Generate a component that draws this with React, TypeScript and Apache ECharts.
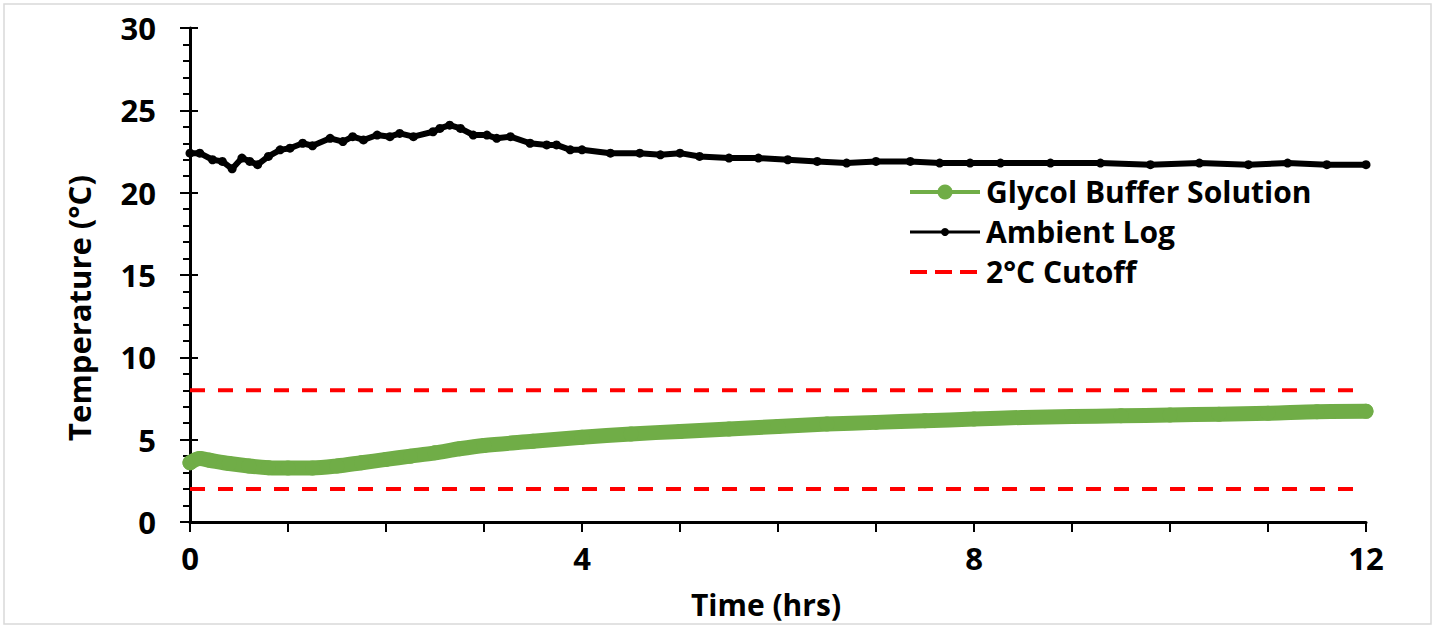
import React, { useEffect, useRef } from "react";
import * as echarts from "echarts";

const glycolHours = [0, 0.1, 0.2, 0.4, 0.6, 0.8, 1.0, 1.25, 1.5, 1.75, 2.0, 2.25, 2.5, 2.75, 3.0, 3.5, 4.0, 4.5, 5.0, 5.5, 6.0, 6.5, 7.0, 7.5, 8.0, 8.5, 9.0, 9.5, 10.0, 10.5, 11.0, 11.5, 12.0];
const glycolTemps = [3.6, 3.85, 3.75, 3.55, 3.4, 3.3, 3.28, 3.28, 3.4, 3.6, 3.8, 4.0, 4.2, 4.45, 4.65, 4.9, 5.15, 5.35, 5.5, 5.65, 5.8, 5.95, 6.05, 6.15, 6.25, 6.35, 6.4, 6.45, 6.5, 6.55, 6.6, 6.7, 6.72];

const ambientHours = [0, 0.1, 0.23, 0.33, 0.43, 0.53, 0.61, 0.69, 0.8, 0.92, 1.02, 1.15, 1.25, 1.43, 1.56, 1.66, 1.77, 1.91, 2.04, 2.14, 2.28, 2.48, 2.55, 2.65, 2.76, 2.89, 3.03, 3.13, 3.27, 3.47, 3.64, 3.74, 3.88, 4.0, 4.29, 4.59, 4.8, 5.0, 5.2, 5.5, 5.8, 6.1, 6.4, 6.7, 7.0, 7.35, 7.65, 7.96, 8.27, 8.78, 9.29, 9.8, 10.3, 10.8, 11.2, 11.6, 12.0];
const ambientTemps = [22.4, 22.4, 22.0, 21.9, 21.45, 22.1, 21.9, 21.7, 22.2, 22.6, 22.7, 23.0, 22.85, 23.3, 23.1, 23.4, 23.2, 23.5, 23.4, 23.6, 23.4, 23.7, 23.9, 24.1, 23.9, 23.5, 23.5, 23.3, 23.4, 23.0, 22.9, 22.9, 22.6, 22.6, 22.4, 22.4, 22.3, 22.4, 22.2, 22.1, 22.1, 22.0, 21.9, 21.8, 21.9, 21.9, 21.8, 21.8, 21.8, 21.8, 21.8, 21.7, 21.8, 21.7, 21.8, 21.7, 21.7];

const cutoffLow = [2, 2];
const cutoffHigh = [8, 8];
const cutoffHours = [0, 12];

const seriesNames = ["Glycol Buffer Solution", "Ambient Log", "2°C Cutoff"];
const xTitle = "Time (hrs)";
const yTitle = "Temperature (°C)";

const FONT = "Open Sans";
const GREEN = "#70ad47";
const RED = "#ff0000";

export default function App() {
  const ref = useRef<HTMLDivElement>(null);
  useEffect(() => {
    if (!ref.current) return;
    const chart = echarts.init(ref.current, null, { renderer: "svg" });
    const pairs = (xs: number[], ys: number[]) => xs.map((x, i) => [x, ys[i]]);
    const legendLeft = 910;
    const rowY = [192, 232, 272];
    const hidden = { opacity: 0 };
    chart.setOption({
      animation: false,
      backgroundColor: "#fff",
      grid: { left: 190, right: 69, top: 28, bottom: 106, containLabel: false },
      xAxis: {
        type: "value",
        min: 0,
        max: 12,
        interval: 1,
        axisLine: { lineStyle: { color: "#000", width: 3 } },
        axisTick: { show: true, length: 10, lineStyle: { color: "#000", width: 2 } },
        axisLabel: {
          formatter: (v: number) => (v % 4 === 0 ? String(v) : ""),
          fontFamily: FONT,
          fontWeight: "bold",
          fontSize: 31,
          color: "#000",
          margin: 20,
        },
        splitLine: { show: false },
      },
      yAxis: [
        {
          type: "value",
          min: 0,
          max: 30,
          interval: 5,
          axisLine: { show: true, lineStyle: { color: "#000", width: 3 } },
          axisTick: { show: true, length: 10, lineStyle: { color: "#000", width: 2 } },
          minorTick: { show: true, splitNumber: 5, length: 7, lineStyle: { color: "#000", width: 2 } },
          axisLabel: { fontFamily: FONT, fontWeight: "bold", fontSize: 31, color: "#000", margin: 34 },
          splitLine: { show: false },
        },
        {
          type: "value",
          min: 0,
          max: 30,
          interval: 5,
          position: "left",
          offset: 0,
          axisLine: { show: false },
          axisTick: { show: true, inside: true, length: 8, lineStyle: { color: "#000", width: 2 } },
          axisLabel: { show: false },
          splitLine: { show: false },
        },
      ],
      legend: {
        orient: "vertical",
        left: legendLeft,
        top: rowY[0] - 26,
        itemWidth: 70,
        itemHeight: 16,
        itemGap: 0,
        textStyle: { fontFamily: FONT, fontWeight: "bold", fontSize: 30, color: "#000", lineHeight: 40, height: 40, padding: [0, 0, 0, -4] },
        data: seriesNames.map((n) => ({ name: n, icon: "rect", itemStyle: hidden, lineStyle: hidden })),
      },
      graphic: [
        {
          type: "rect",
          shape: { x: 4, y: 4, width: 1427, height: 620 },
          style: { fill: "none", stroke: "#d9d9d9", lineWidth: 1.5 },
          silent: true,
        },
        {
          type: "text",
          x: 79,
          y: 308,
          rotation: Math.PI / 2,
          style: { text: yTitle, fontFamily: FONT, fontWeight: "bold", fontSize: 31, fill: "#000", align: "center", verticalAlign: "middle" },
        },
        {
          type: "text",
          x: 766,
          y: 604,
          style: { text: xTitle, fontFamily: FONT, fontWeight: "bold", fontSize: 30, fill: "#000", align: "center", verticalAlign: "middle" },
        },
        {
          type: "line",
          shape: { x1: legendLeft, y1: rowY[0], x2: legendLeft + 70, y2: rowY[0] },
          style: { stroke: GREEN, lineWidth: 4 },
        },
        { type: "circle", shape: { cx: legendLeft + 35, cy: rowY[0], r: 7.5 }, style: { fill: GREEN } },
        {
          type: "line",
          shape: { x1: legendLeft, y1: rowY[1], x2: legendLeft + 70, y2: rowY[1] },
          style: { stroke: "#000", lineWidth: 3 },
        },
        { type: "circle", shape: { cx: legendLeft + 35, cy: rowY[1], r: 4 }, style: { fill: "#000" } },
        {
          type: "line",
          shape: { x1: legendLeft, y1: rowY[2], x2: legendLeft + 70, y2: rowY[2] },
          style: { stroke: RED, lineWidth: 4, lineDash: [17, 8] },
        },
      ],
      series: [
        {
          name: seriesNames[2],
          type: "line",
          data: pairs(cutoffHours, cutoffLow),
          symbol: "none",
          lineStyle: { color: RED, width: 4, type: [15, 13] },
          itemStyle: { color: RED },
          z: 1,
        },
        {
          name: seriesNames[2],
          type: "line",
          data: pairs(cutoffHours, cutoffHigh),
          symbol: "none",
          lineStyle: { color: RED, width: 4, type: [15, 13] },
          itemStyle: { color: RED },
          z: 1,
        },
        {
          name: seriesNames[0],
          type: "line",
          data: pairs(glycolHours, glycolTemps),
          symbol: "circle",
          symbolSize: 15,
          showAllSymbol: true,
          smooth: 0.3,
          lineStyle: { color: GREEN, width: 15, cap: "round", join: "round" },
          itemStyle: { color: GREEN },
          z: 3,
        },
        {
          name: seriesNames[1],
          type: "line",
          data: pairs(ambientHours, ambientTemps),
          symbol: "circle",
          symbolSize: 9,
          showAllSymbol: true,
          lineStyle: { color: "#000", width: 6, join: "round", cap: "round" },
          itemStyle: { color: "#000" },
          z: 3,
        },
      ],
    });
    return () => chart.dispose();
  }, []);
  return (
    <div
      ref={ref}
      style={{ position: "fixed", left: 0, top: 0, width: 1435, height: 628 }}
    />
  );
}
